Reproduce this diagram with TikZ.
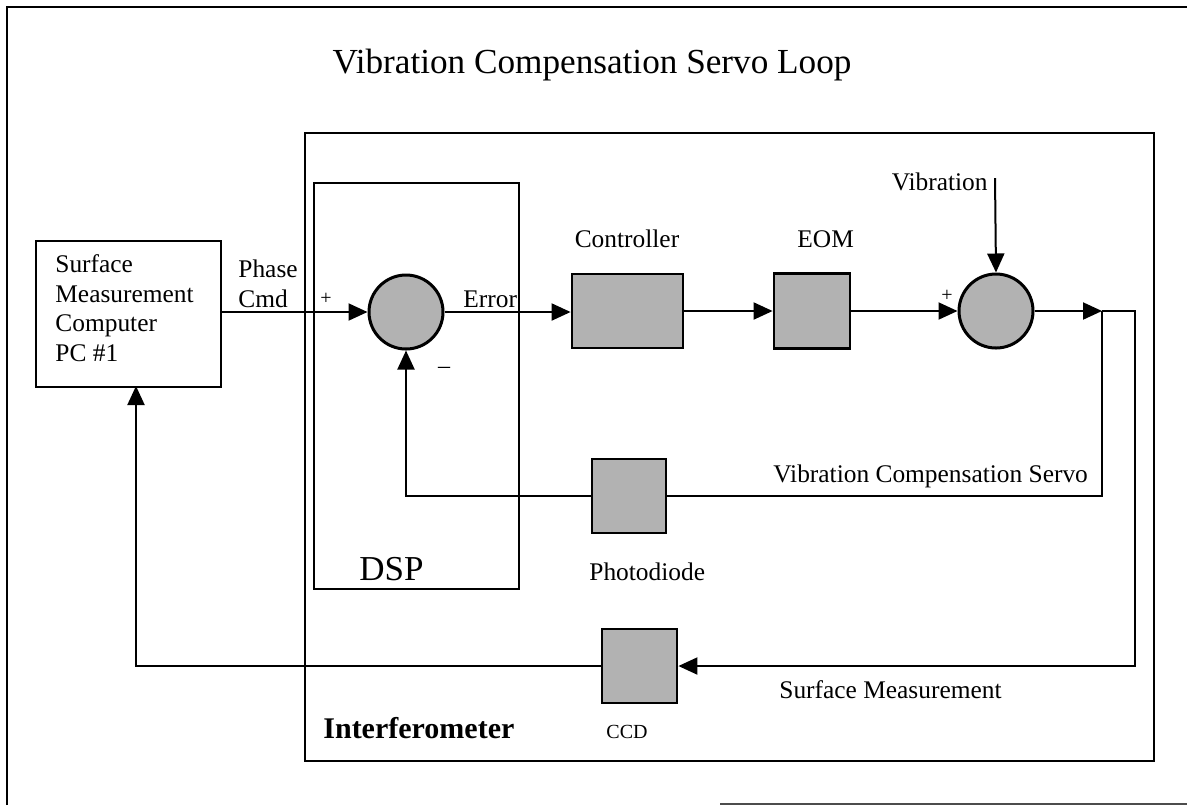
\documentclass[tikz,border=0pt]{standalone}
\usepackage{fontspec}
\setmainfont{Liberation Serif}
\usetikzlibrary{arrows.meta,calc}
\begin{document}
\begin{tikzpicture}[x=0.5pt,y=-0.5pt,
  lbl/.style={inner sep=0pt,font=\fontsize{12.7}{15}\selectfont},
  graybox/.style={draw,line width=1.4pt,fill=black!30,rectangle,inner sep=0pt},
  sumnode/.style={draw,line width=1.5pt,fill=black!30,circle,inner sep=0pt,minimum size=37pt},
  plainbox/.style={draw,line width=1.1pt,rectangle,inner sep=0pt,anchor=north west},
  conn/.style={line width=1pt},
  arr/.style={conn,-{Triangle[length=9.5pt,width=8.5pt]}},
  frameline/.style={line width=1.1pt}]

\path[use as bounding box,fill=white] (0,0) rectangle (1187,805);

% outer frame (cropped)
\draw[frameline] (7,805) -- (7,7) -- (1187,7);
\draw[frameline,black!70] (720,804) -- (1187,804);

% title
\node[lbl,font=\fontsize{17.6}{20}\selectfont,anchor=base] (title) at (592,73) {Vibration Compensation Servo Loop};

% containers
\node[plainbox,minimum width=424.5pt,minimum height=314pt] (interf) at (304,132) {};
\node[plainbox,minimum width=102.5pt,minimum height=203pt] (dsp) at (313,182) {};
\node[plainbox,minimum width=92.5pt,minimum height=73pt] (pc) at (35,240) {};

% PC text
\node[lbl,anchor=base west] (pcl1) at (55,272) {Surface};
\node[lbl,anchor=base west] (pcl2) at (55,302) {Measurement};
\node[lbl,anchor=base west] (pcl3) at (55,331) {Computer};
\node[lbl,anchor=base west] (pcl4) at (55,361) {PC \#1};

% blocks
\node[sumnode] (sum1) at (406,312) {};
\node[graybox,minimum width=55.5pt,minimum height=37pt] (ctrl) at (627.5,311) {};
\node[graybox,minimum width=38pt,minimum height=37.5pt] (eom) at (812,311) {};
\node[sumnode] (sum2) at (996,311) {};
\node[graybox,minimum width=37pt,minimum height=37pt] (pd) at (629,496) {};
\node[graybox,minimum width=37.5pt,minimum height=37pt] (ccd) at (639.5,666) {};

% labels
\node[lbl,anchor=base west] (phase) at (238,277) {Phase};
\node[lbl,anchor=base west] (cmd) at (238,307) {Cmd};
\node[lbl,font=\fontsize{10}{12}\selectfont] (plus1) at (326,299) {+};
\node[lbl,font=\fontsize{12}{14}\selectfont] (minus1) at (444,370) {–};
\node[lbl,anchor=base west] (err) at (463,307) {Error};
\node[lbl,anchor=base] (ctrllbl) at (627,247) {Controller};
\node[lbl,anchor=base west] (eomlbl) at (797,247) {EOM};
\node[lbl,font=\fontsize{10}{12}\selectfont] (plus2) at (947,296) {+};
\node[lbl,anchor=base east] (viblbl) at (988,190) {Vibration};
\node[lbl,anchor=base west] (vcs) at (773,482) {Vibration Compensation Servo};
\node[lbl,anchor=base west] (pdlbl) at (589,580) {Photodiode};
\node[lbl,anchor=base west,font=\fontsize{17.5}{20}\selectfont] (dsplbl) at (359,580) {DSP};
\node[lbl,anchor=base west] (smlbl) at (779,698) {Surface Measurement};
\node[lbl,anchor=base west,font=\bfseries\fontsize{15}{18}\selectfont] (iflbl) at (323,738) {Interferometer};
\node[lbl,anchor=base west,font=\fontsize{10}{12}\selectfont] (ccdlbl) at (606,738) {CCD};

% junction coordinates
\coordinate (j1) at (1102,311);
\coordinate (j2) at (1135,311);
\coordinate (pcin) at (136,386);
\coordinate (vibtop) at (995,178);

% connectors
\draw[arr] (pc.east |- sum1.west) -- (sum1.west);
\draw[arr] (sum1.east) -- (sum1.east -| ctrl.west);
\draw[arr] (ctrl.east) -- (ctrl.east -| eom.west);
\draw[arr] (eom.east) -- (eom.east -| sum2.west);
\draw[arr] (sum2.east) -- (j1);
\draw[arr] (j1) -- (j2) -- (j2 |- ccd.east) -- (ccd.east);
\draw[conn] (j1) -- (j1 |- pd.east) -- (pd.east);
\draw[arr] (pd.west) -| (sum1.south);
\draw[arr] (ccd.west) -| (pcin);
\draw[arr] (vibtop) -- (sum2.north);
\end{tikzpicture}
\end{document}
